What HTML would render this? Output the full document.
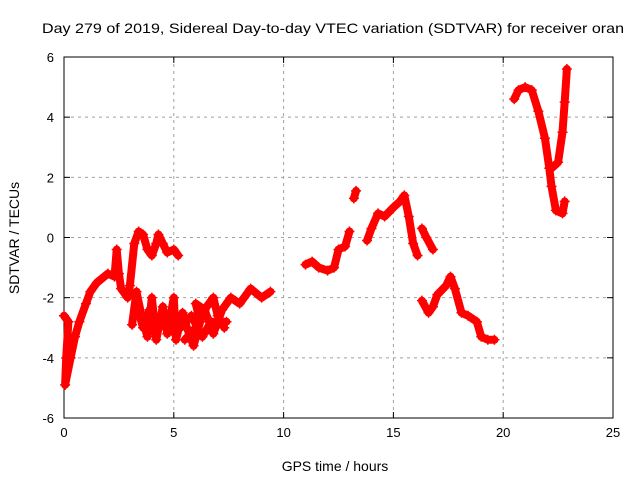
<!DOCTYPE html>
<html><head><meta charset="utf-8"><style>
body{margin:0;background:#fff}
svg{display:block;font-family:"Liberation Sans",sans-serif}
</style></head><body>
<svg id="chart" width="640" height="480" viewBox="0 0 640 480" xmlns="http://www.w3.org/2000/svg">
<rect width="640" height="480" fill="#fff"/>
<text x="42" y="33" font-size="14" textLength="582" lengthAdjust="spacingAndGlyphs" fill="#000">Day 279 of 2019, Sidereal Day-to-day VTEC variation (SDTVAR) for receiver oran</text>
<g id="grid"></g>
<g id="axes"></g>
<g id="marks"></g>
<text x="335" y="471" font-size="14" text-anchor="middle">GPS time / hours</text>
<text transform="translate(19,238) rotate(-90)" font-size="14" text-anchor="middle">SDTVAR / TECUs</text>
</svg>
<script>
const xTicks=[0,5,10,15,20,25];
const yTicks=[-6,-4,-2,0,2,4,6];
const trackA=[[0,-2.6],[0.2,-2.8],[0.1,-4.0],[0.05,-4.9],[0.3,-4.0],[0.5,-3.3],[0.7,-2.8],[1.0,-2.2],[1.2,-1.8],[1.5,-1.5],[2.0,-1.2],[2.3,-1.3],[2.4,-0.4],[2.5,-1.2],[2.6,-1.7],[2.9,-2.0],[3.0,-1.6],[3.2,-0.2],[3.4,0.2],[3.6,0.1],[3.8,-0.4],[4.0,-0.6],[4.2,-0.2],[4.3,0.1],[4.5,-0.2],[4.7,-0.5],[5.0,-0.4],[5.2,-0.6]];
const trackB=[[3.1,-2.9],[3.3,-1.8],[3.5,-2.5],[3.8,-3.3],[4.0,-2.0],[4.2,-3.4],[4.5,-2.3],[4.7,-3.2],[5.0,-2.0],[5.1,-3.4],[5.4,-2.5],[5.6,-3.0],[5.9,-3.6],[6.2,-2.8],[6.0,-2.2],[6.4,-2.4],[6.8,-3.2],[7.2,-2.4],[7.6,-2.0],[8.0,-2.2],[8.5,-1.7],[9.0,-2.0],[9.4,-1.8]];
const trackB2=[[5.5,-3.4],[6.0,-3.0],[6.5,-2.3],[6.8,-2.0],[7.0,-2.6],[7.3,-3.0]];
const trackB3=[[3.3,-2.2],[3.6,-3.0],[3.9,-2.4],[4.3,-2.8],[4.6,-2.6],[4.9,-3.1],[5.3,-3.0],[5.8,-2.6],[6.3,-3.3],[6.7,-2.8],[7.4,-2.8]];
const trackC=[[11.0,-0.9],[11.3,-0.8],[11.6,-1.0],[12.0,-1.1],[12.3,-1.0],[12.5,-0.4],[12.8,-0.3],[13.0,0.2]];
const trackC2=[[13.2,1.3],[13.3,1.55]];
const trackC3=[[13.8,-0.1],[14.0,0.3],[14.3,0.8],[14.6,0.7],[15.0,1.0],[15.3,1.2],[15.5,1.4],[15.7,0.7],[15.9,-0.2],[16.1,-0.6]];
const trackC4=[[16.3,0.3],[16.5,0.0],[16.8,-0.4]];
const trackD=[[16.3,-2.1],[16.6,-2.5],[16.8,-2.3],[17.0,-1.9],[17.4,-1.6],[17.6,-1.3],[17.8,-1.7],[18.1,-2.5],[18.4,-2.6],[18.8,-2.8],[19.0,-3.3],[19.3,-3.4],[19.6,-3.4]];
const trackE=[[20.5,4.6],[20.7,4.9],[21.0,5.0],[21.3,4.9],[21.6,4.2],[21.9,3.3],[22.1,2.3],[22.2,1.7],[22.4,0.9],[22.7,0.8],[22.8,1.2]];
const trackE2=[[22.2,2.3],[22.5,2.5],[22.7,3.5],[22.8,4.5],[22.9,5.6]];
const tracks=[trackA,trackB,trackB2,trackB3,trackC,trackC2,trackC3,trackC4,trackD,trackE,trackE2];
const X0=64,X1=613,Y0=418,Y1=57;
const sx=v=>X0+(v-0)/(25-0)*(X1-X0);
const sy=v=>Y0-(v+6)/12*(Y0-Y1);
const NS="http://www.w3.org/2000/svg";
function mk(t,a,p){const e=document.createElementNS(NS,t);for(const k in a)e.setAttribute(k,a[k]);p.appendChild(e);return e;}
const grid=document.getElementById('grid'),axes=document.getElementById('axes'),marks=document.getElementById('marks');
xTicks.forEach(t=>{const x=sx(t);
 if(t>0&&t<25){const l=mk('line',{x1:x,y1:Y1,x2:x,y2:Y0,stroke:'#a0a0a0','stroke-dasharray':'3,4'},grid);}
 mk('line',{x1:x,y1:Y0,x2:x,y2:Y0-6,stroke:'#000'},axes);mk('line',{x1:x,y1:Y1,x2:x,y2:Y1+6,stroke:'#000'},axes);
 const tx=mk('text',{x:x,y:Y0+19,'font-size':13,'text-anchor':'middle'},axes);tx.textContent=t;
 });
yTicks.forEach(t=>{const y=sy(t);
 if(t>-6&&t<6){const l=mk('line',{x1:X0,y1:y,x2:X1,y2:y,stroke:'#a0a0a0','stroke-dasharray':'3,4'},grid);}
 mk('line',{x1:X0,y1:y,x2:X0+6,y2:y,stroke:'#000'},axes);mk('line',{x1:X1,y1:y,x2:X1-6,y2:y,stroke:'#000'},axes);
 const tx=mk('text',{x:X0-10,y:y+5,'font-size':13,'text-anchor':'end'},axes);tx.textContent=t;
 });
const frame=mk('rect',{x:X0,y:Y1,width:X1-X0,height:Y0-Y1,fill:'none',stroke:'#000'},axes);

tracks.forEach(tr=>{
 const pl=mk('polyline',{points:tr.map(p=>sx(p[0])+','+sy(p[1])).join(' '),fill:'none',stroke:'#f00','stroke-width':8,'stroke-linejoin':'round','stroke-linecap':'round'},marks);
 
 tr.forEach(p=>{const x=sx(p[0]),y=sy(p[1]);
  const m=mk('path',{d:`M${x-5},${y}H${x+5}M${x},${y-5}V${y+5}`,stroke:'#f00','stroke-width':1.5},marks);
  });
});
</script>
</body></html>
